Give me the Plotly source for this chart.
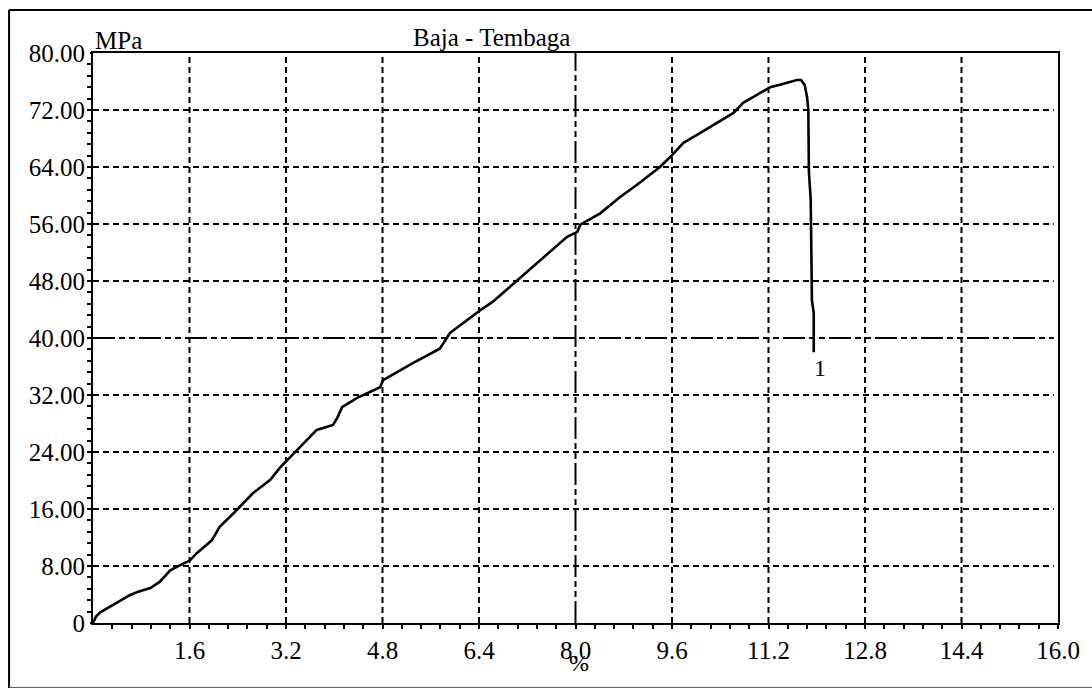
import numpy as np
import plotly.graph_objects as go

# ---- data ----
strain = [0, 0.05, 0.12, 0.33, 0.61, 0.75, 0.95, 1.11, 1.28, 1.44, 1.61, 1.72, 1.97,
          2.1, 2.33, 2.65, 2.94, 3.1, 3.38, 3.71, 3.98, 4.05, 4.13, 4.38, 4.76, 4.81,
          5.31, 5.75, 5.92, 6.42, 6.63, 7.03, 7.41, 7.86, 8.03, 8.08, 8.41, 8.74, 9.02,
          9.4, 9.57, 9.79, 10.07, 10.35, 10.62, 10.78, 11.06, 11.23, 11.45, 11.67, 11.74,
          11.8, 11.84, 11.86, 11.87, 11.9, 11.92, 11.95, 11.95]
stress = [0, 0.9, 1.5, 2.5, 3.9, 4.4, 4.9, 5.8, 7.4, 8.1, 8.8, 9.8, 11.6,
          13.5, 15.4, 18.2, 20.1, 21.8, 24.3, 27.1, 27.8, 28.8, 30.3, 31.6, 33.1, 34.1,
          36.5, 38.5, 40.7, 43.9, 45.1, 48.1, 50.9, 54.2, 54.9, 55.9, 57.5, 59.8, 61.5,
          64.0, 65.4, 67.4, 68.8, 70.2, 71.6, 73.0, 74.4, 75.2, 75.7, 76.2, 76.2,
          75.5, 73.8, 72.0, 63.3, 59.4, 45.3, 43.5, 38.0]

x_ticks = [1.6, 3.2, 4.8, 6.4, 8.0, 9.6, 11.2, 12.8, 14.4, 16.0]
x_labels = ["1.6", "3.2", "4.8", "6.4", "8.0", "9.6", "11.2", "12.8", "14.4", "16.0"]
y_ticks = [0, 8, 16, 24, 32, 40, 48, 56, 64, 72, 80]
y_labels = ["0", "8.00", "16.00", "24.00", "32.00", "40.00", "48.00", "56.00",
            "64.00", "72.00", "80.00"]

title_text = "Baja - Tembaga"
y_unit = "MPa"
x_unit = "%"
curve_label = "1"
center_x = 8.0
center_y = 40.0

FONT = "Liberation Serif"

fig = go.Figure()
fig.add_trace(go.Scatter(x=strain, y=stress, mode="lines",
                         line=dict(color="black", width=2.6), showlegend=False,
                         hoverinfo="skip"))

shapes = []
short_dash = "6px,4px"
long_dash = "22px,4px,6px,4px,6px,4px"
for xv in x_ticks[:-1]:
    shapes.append(dict(type="line", xref="x", yref="y", x0=xv, x1=xv, y0=0, y1=80,
                       line=dict(color="black", width=2,
                                 dash=long_dash if xv == center_x else short_dash),
                       layer="below"))
for yv in y_ticks[1:-1]:
    shapes.append(dict(type="line", xref="x", yref="y", x0=0, x1=15.93, y0=yv, y1=yv,
                       line=dict(color="black", width=2,
                                 dash=long_dash if yv == center_y else short_dash),
                       layer="below"))

# outer frame of the printout
shapes.append(dict(type="line", xref="paper", yref="paper", x0=-0.087, x1=1.06,
                   y0=1.0754, y1=1.0754, line=dict(color="black", width=2)))
shapes.append(dict(type="line", xref="paper", yref="paper", x0=-0.087, x1=-0.087,
                   y0=1.0754, y1=-0.115, line=dict(color="black", width=2)))
shapes.append(dict(type="line", xref="paper", yref="paper", x0=-0.087, x1=1.06,
                   y0=-0.113, y1=-0.113, line=dict(color="#555555", width=1)))

annotations = [
    dict(text=title_text, x=0.413, xref="paper", y=1.0, yref="paper", showarrow=False,
         font=dict(family=FONT, size=25, color="black"), yanchor="bottom", xanchor="center"),
    dict(text=y_unit, x=0.0, xref="paper", y=1.0, yref="paper", showarrow=False,
         font=dict(family=FONT, size=25, color="black"), yanchor="bottom", xanchor="left",
         yshift=-3),
    dict(text=x_unit, x=center_x + 0.05, xref="x", y=0, yref="paper", showarrow=False,
         font=dict(family=FONT, size=24, color="black"), yanchor="top", xanchor="center",
         yshift=-25),
    dict(text=curve_label, x=12.06, xref="x", y=35.8, yref="y", showarrow=False,
         font=dict(family=FONT, size=24, color="black"), xanchor="center", yanchor="middle"),
]

fig.update_layout(
    width=1092, height=688,
    margin=dict(l=93, r=34, t=53, b=65),
    paper_bgcolor="white", plot_bgcolor="white",
    shapes=shapes, annotations=annotations,
    font=dict(family=FONT, size=25, color="black"),
    xaxis=dict(range=[0, 16], tickmode="array", tickvals=x_ticks, ticktext=x_labels,
               showgrid=False, zeroline=False, showline=True, linecolor="black",
               linewidth=2, mirror=True, ticks="outside", ticklen=4, tickwidth=2,
               tickcolor="black",
               minor=dict(tickvals=list(np.round(np.arange(0.32, 16.0, 0.32), 2)),
                          ticks="outside", ticklen=4, tickwidth=2, tickcolor="black",
                          showgrid=False),
               tickfont=dict(family=FONT, size=25, color="black")),
    yaxis=dict(range=[0, 80], tickmode="array", tickvals=y_ticks, ticktext=y_labels,
               showgrid=False, zeroline=False, showline=True, linecolor="black",
               linewidth=2, mirror=True, ticks="outside", ticklen=1, tickwidth=2,
               tickcolor="black",
               minor=dict(tickvals=list(np.round(np.arange(1.6, 80, 1.6), 2)),
                          ticks="outside", ticklen=4, tickwidth=2, tickcolor="black",
                          showgrid=False),
               tickfont=dict(family=FONT, size=25, color="black")),
)

fig.write_html("out.html")
